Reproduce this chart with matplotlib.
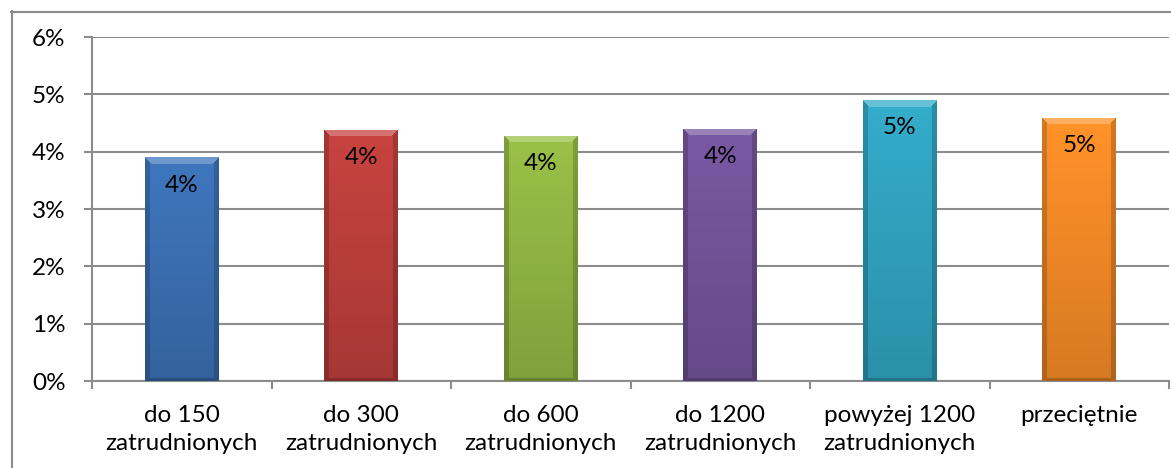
import numpy as np
import matplotlib as mpl
import matplotlib.pyplot as plt
from matplotlib.ticker import PercentFormatter, FixedLocator
from matplotlib.colors import to_rgb
from matplotlib.lines import Line2D

plt.rcParams["font.family"] = ["Lato", "DejaVu Sans"]

# share of firms by employment size
aCategory = ["do 150\nzatrudnionych", "do 300\nzatrudnionych", "do 600\nzatrudnionych",
             "do 1200\nzatrudnionych", "powyżej 1200\nzatrudnionych", "przeciętnie"]
aValue = [0.039, 0.0438, 0.0428, 0.044, 0.049, 0.0459]
aColor = ["#3b70b3", "#bd3f3c", "#92b644", "#73549a", "#31a3c0", "#f48a27"]

sGrey = "#8c8c8c"
dFont = 17.5
dpi = 100
fig = plt.figure(figsize=(11.71, 4.68), dpi=dpi)
ax = fig.add_axes([92 / 1171, 1 - 381 / 468, (1169 - 92) / 1171, (381 - 37) / 468])

x = np.arange(len(aValue))
bars = ax.bar(x, aValue, width=0.41, color=aColor, zorder=2)
ax.set_xlim(-0.5, len(aValue) - 0.5)
ax.set_ylim(0, 0.06)

# gradient + bevel fill for each bar, clipped to the bar rectangle
fig.canvas.draw()
for rect, sColor in zip(bars, aColor):
    x0, y0 = rect.get_x(), rect.get_y()
    w, h = rect.get_width(), rect.get_height()
    (px0, py0), (px1, py1) = ax.transData.transform([(x0, y0), (x0 + w, y0 + h)])
    nw, nh = int(round(px1 - px0)), int(round(py1 - py0))
    jj, ii = np.meshgrid(np.arange(nw), np.arange(nh))
    base = np.array(to_rgb(sColor))
    # vertical: lighter at top, darker at bottom
    fv = 1.06 - 0.18 * ii / max(nh - 1, 1)
    img = base[None, None, :] * fv[..., None]
    dl, dr, dt, db = jj, nw - 1 - jj, ii, nh - 1 - ii
    bev = 7
    top = (dt < bev) & (dt <= dl) & (dt <= dr)
    side = ((dl < 5) | (dr < 5)) & ~top
    bot = (db < 3) & ~side
    img[side] *= 0.82
    img[bot] *= 0.8
    img[top] = img[top] * 0.75 + 0.25
    img = np.clip(img, 0, 1)
    im = ax.imshow(img, extent=(x0, x0 + w, y0, y0 + h), origin="upper",
                   aspect="auto", zorder=3, interpolation="bilinear")
    im.set_clip_path(rect)

for xi, v in zip(x, aValue):
    ax.annotate(f"{v:.0%}", xy=(xi, v), xytext=(0, -20), textcoords="offset points",
                ha="center", va="center", fontsize=dFont, zorder=4)

ax.yaxis.set_major_formatter(PercentFormatter(xmax=1, decimals=0))
ax.set_yticks(np.arange(0, 0.061, 0.01))
ax.set_xticks(x)
ax.set_xticklabels(aCategory, fontsize=dFont, linespacing=1.45)
ax.xaxis.set_minor_locator(FixedLocator(np.arange(-0.5, len(aValue), 1.0)))
ax.tick_params(axis="x", which="major", length=0, pad=17)
ax.tick_params(axis="x", which="minor", length=6, width=1.5, color=sGrey, direction="out")
ax.tick_params(axis="y", length=6, width=1.5, color=sGrey, pad=13, labelsize=dFont)
ax.grid(axis="y", color=sGrey, linewidth=1.5, zorder=0)
ax.set_axisbelow(True)
for s in ["top", "right"]:
    ax.spines[s].set_visible(False)
for s in ["left", "bottom"]:
    ax.spines[s].set_color(sGrey)
    ax.spines[s].set_linewidth(1.5)

# chart border
fig.add_artist(Line2D([11.5 / 1171, 11.5 / 1171], [1 - 11 / 468, 0], transform=fig.transFigure,
                      color=sGrey, linewidth=1.5))
fig.add_artist(Line2D([11 / 1171, 1], [1 - 11.5 / 468, 1 - 11.5 / 468], transform=fig.transFigure,
                      color=sGrey, linewidth=1.5))

plt.savefig("out.png", dpi=dpi)
